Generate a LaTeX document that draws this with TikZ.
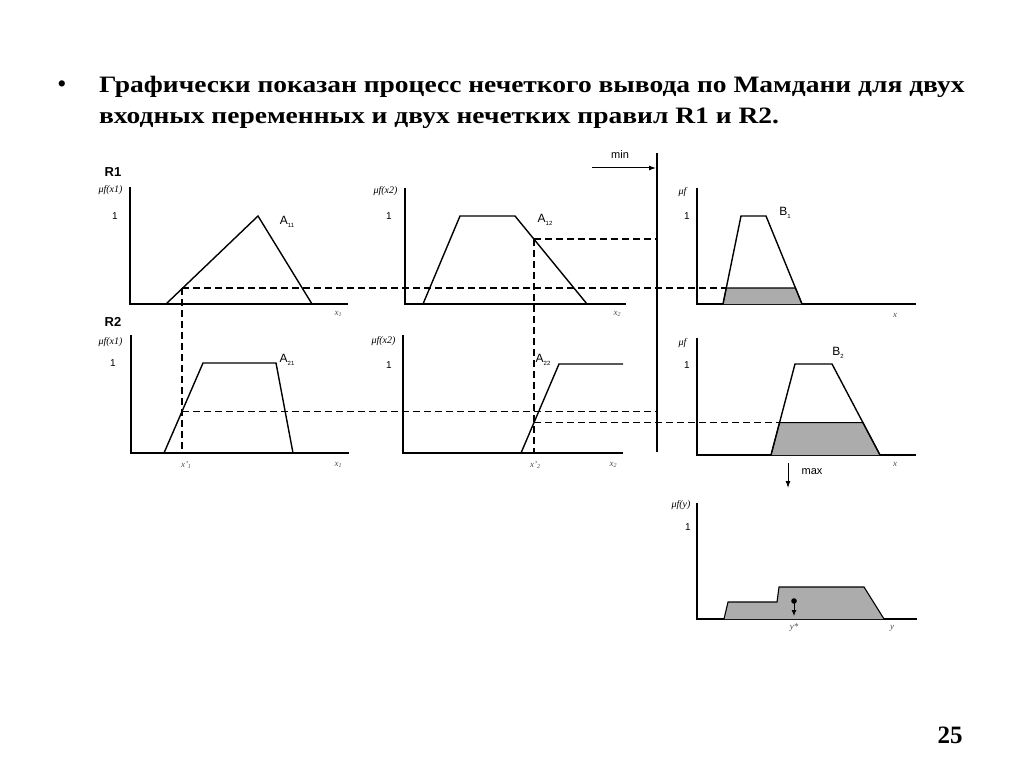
\documentclass[tikz,border=0pt]{standalone}
\usepackage{fontspec}
\setmainfont{Liberation Serif}
\setsansfont{Liberation Sans}
\usetikzlibrary{arrows.meta, calc, positioning}
\definecolor{cutgray}{RGB}{172, 172, 172}
\newcommand{\lsub}[1]{\raisebox{-0.45ex}{\fontsize{6}{6}\selectfont #1}}

\begin{document}
\begin{tikzpicture}[x=1pt, y=-1pt,
				axisline/.style={line width=2.5pt},
				mfline/.style={line width=1.4pt, line join=miter},
				cutline/.style={line width=1.1pt, dash pattern=on 7pt off 4pt},
				cutfill/.style={fill=cutgray, draw=black, line width=1.1pt},
				titletext/.style={anchor=west, xscale=1.17, font=\bfseries\fontsize{23.5}{23.5}\selectfont},
				ylab/.style={anchor=east, font=\itshape\fontsize{10}{10}\selectfont},
				xlab/.style={font=\itshape\fontsize{9}{9}\selectfont, text=black!70},
				onelab/.style={font=\sffamily\fontsize{10}{10}\selectfont},
				setlab/.style={font=\sffamily\fontsize{12}{12}\selectfont},
				rulelab/.style={font=\sffamily\bfseries\fontsize{13}{13}\selectfont},
				oplab/.style={font=\sffamily\fontsize{11}{11}\selectfont},
				arr/.style={-{Latex[length=7pt, width=5pt]}, line width=1pt}
				]
				\useasboundingbox (0,0) rectangle (1024,767);
				\node[font=\bfseries\fontsize{23}{23}\selectfont] (bullet) at (62,86) {•};
				\node[titletext] (title1) at (95,87) {Графически показан процесс нечеткого вывода по Мамдани для двух};
				\node[titletext] (title2) at (95,118) {входных переменных и двух нечетких правил R1 и R2.};
				\node[font=\bfseries\fontsize{25}{25}\selectfont] (pagenum) at (950,735) {25};
				
				\node[rulelab] (r1) at (113,172) {R1};
				\node[rulelab] (r2) at (113,322) {R2};
				
				\draw[axisline] (130,187) |- (348,304);
				\draw[axisline] (405,188) |- (626,304);
				\draw[axisline] (697,188) |- (916,304);
				\draw[axisline] (131,335) |- (349,453);
				\draw[axisline] (403,335) |- (623,453);
				\draw[axisline] (697,338) |- (916,455);
				\draw[axisline] (697,503) |- (917,619);
				
				\node[ylab] (mu11) at (126,190) {μf(x1)};
				\node[ylab] (mu12) at (401,191) {μf(x2)};
				\node[ylab] (mub1) at (690,192) {μf};
				\node[ylab] (mu21) at (126,342) {μf(x1)};
				\node[ylab] (mu22) at (399,341) {μf(x2)};
				\node[ylab] (mub2) at (690,343) {μf};
				\node[ylab] (muy) at (694,505) {μf(y)};
				
				\foreach \px/\py [count=\i] in {115/216, 389/216, 687/216, 113/363, 389/365, 687/365, 688/527}
				\node[onelab] (one\i) at (\px,\py) {1};
				
				\node[xlab] (ax11) at (338,314) {x\lsub{1}};
				\node[xlab] (ax12) at (617,314) {x\lsub{2}};
				\node[xlab] (axb1) at (895,315) {x};
				\node[xlab] (ax21) at (338,465) {x\lsub{1}};
				\node[xlab] (ax22) at (613,465) {x\lsub{2}};
				\node[xlab] (axb2) at (895,464) {x};
				\node[xlab] (x1p) at (186,465) {x'\lsub{1}};
				\node[xlab] (x2p) at (535,465) {x'\lsub{2}};
				\node[xlab] (ystar) at (794,628) {y*};
				\node[xlab] (ylab) at (892,628) {y};
				
				\draw[mfline] (166,304) -- (258,216) -- (312,304);
				\draw[mfline] (423,304) -- (460,216) -- (515,216) -- (587,304);
				\draw[mfline] (164,453) -- (203,363) -- (276,363) -- (293,453);
				\draw[mfline] (521,453) -- (559,364) -- (623,364);
				
				\node[setlab] (a11) at (287,222) {A\lsub{11}};
				\node[setlab] (a12) at (545,220) {A\lsub{12}};
				\node[setlab] (a21) at (287,360) {A\lsub{21}};
				\node[setlab] (a22) at (543,360) {A\lsub{22}};
				\node[setlab] (b1) at (785,213) {B\lsub{1}};
				\node[setlab] (b2) at (838,353) {B\lsub{2}};
				
				\draw[cutfill] (723,304) -- (726.3,288) -- (795.5,288) -- (802,304);
				\draw[mfline] (723,304) -- (741,216) -- (766,216) -- (802,304);
				\draw[cutfill] (771,455) -- (779.5,422.6) -- (862.9,422.6) -- (880,455);
				\draw[mfline] (771,455) -- (795,364) -- (832,364) -- (880,455);
				\draw[cutfill, line join=miter] (724,619) -- (728,602) -- (777,602) -- (779,587) -- (864,587) -- (884,619);
				
				\draw[cutline] (182,288) -- (726.3,288);
				\draw[cutline] (182,288) -- (182,453);
				\draw[cutline] (182,411.5) -- (657,411.5);
				\draw[cutline] (534,239) -- (657,239);
				\draw[cutline] (534,239) -- (534,453);
				\draw[cutline] (534,422.6) -- (779.5,422.6);
				
				\draw[line width=1.5pt] (657,153) -- (657,452);
				\coordinate (mintail) at (592,168);
				\coordinate (minhead) at (656,168);
				\draw[arr] (mintail) -- (minhead);
				\node[oplab] (minlab) at (620,155) {min};
				\coordinate (maxtail) at (788,463);
				\coordinate (maxhead) at (788,488);
				\draw[arr] (maxtail) -- (maxhead);
				\node[oplab] (maxlab) at (812,472) {max};
				
				\fill (794,601) circle (2.8pt);
				\coordinate (ytail) at (794,603);
				\coordinate (yhead) at (794,616);
				\draw[arr, -{Latex[length=6pt, width=5pt]}] (ytail) -- (yhead);
			\end{tikzpicture}
\end{document}
